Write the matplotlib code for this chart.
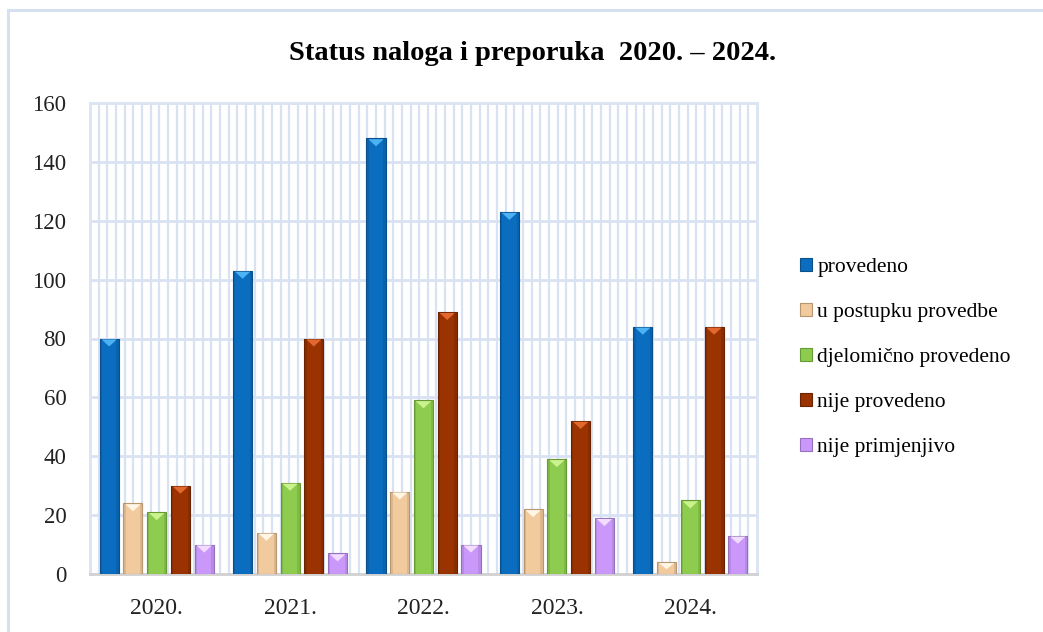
import numpy as np
import matplotlib
matplotlib.use("Agg")
import matplotlib.pyplot as plt
from matplotlib.patches import Polygon, Rectangle

years = ["2020.", "2021.", "2022.", "2023.", "2024."]
series_names = ["provedeno", "u postupku provedbe", "djelomično provedeno",
                "nije provedeno", "nije primjenjivo"]
provedeno = [80, 103, 148, 123, 84]
u_postupku = [24, 14, 28, 22, 4]
djelomicno = [21, 31, 59, 39, 25]
nije_provedeno = [30, 80, 89, 52, 84]
nije_primjenjivo = [10, 7, 10, 19, 13]
series = [provedeno, u_postupku, djelomicno, nije_provedeno, nije_primjenjivo]
y_ticks = [0, 20, 40, 60, 80, 100, 120, 140, 160]

colors = ["#0B6DC0", "#F1CA9E", "#8ECC4F", "#9A3300", "#CA98FA"]
tri_colors = ["#4DB2F2", "#FFF6E6", "#CCF28E", "#E2682E", "#F2DDFF"]
edge_colors = ["#0A4F8A", "#B89670", "#679A35", "#6A2300", "#9470BE"]

W, H = 1043, 632
fig = plt.figure(figsize=(W / 100, H / 100), dpi=100)
fig.patch.set_facecolor("white")
serif = ["Liberation Serif", "DejaVu Serif"]

# outer chart border (top/left visible)
fig.patches.append(Rectangle((8 / W, -0.05), 1.2, 1 - 10 / H + 0.05,
                             transform=fig.transFigure, fill=False,
                             edgecolor="#D6E0F1", linewidth=2.2, zorder=0))

left, right, top, bottom = 90, 757, 103, 574
ax = fig.add_axes([left / W, 1 - bottom / H, (right - left) / W, (bottom - top) / H])

x = np.arange(len(years))
slot = 0.178
bw = 0.143
ymax = 160
dy = 8.0 / ((bottom - top) / ymax)  # triangle depth in data units

for i, (name, vals) in enumerate(zip(series_names, series)):
    offs = x + (i - 2) * slot
    bars = ax.bar(offs, vals, width=bw, color=colors[i], edgecolor=edge_colors[i],
                  linewidth=0.8, label=name, zorder=3)
    for b in bars:
        bx, bwid, bh = b.get_x(), b.get_width(), b.get_height()
        d = min(dy, bh * 0.6)
        tri = Polygon([(bx + bwid * 0.1, bh - 0.3), (bx + bwid * 0.9, bh - 0.3),
                       (bx + bwid / 2, bh - d)], closed=True,
                      facecolor=tri_colors[i], edgecolor="none", zorder=4)
        ax.add_patch(tri)
        ax.add_patch(Rectangle((bx, 0), bwid * 0.12, bh, facecolor=edge_colors[i],
                               alpha=0.35, edgecolor="none", zorder=4))
        ax.add_patch(Rectangle((bx + bwid * 0.88, 0), bwid * 0.12, bh,
                               facecolor=edge_colors[i], alpha=0.35,
                               edgecolor="none", zorder=4))

ax.set_xlim(-0.5, len(years) - 0.5)
ax.set_ylim(0, ymax)
ax.set_yticks(y_ticks)
ax.set_yticklabels([str(t) for t in y_ticks], fontfamily=serif, fontsize=16.5)
ax.set_xticks(x)
ax.set_xticklabels(years, fontfamily=serif, fontsize=17)
ax.tick_params(axis="y", length=0, pad=17, colors="#222222")
ax.tick_params(axis="x", length=0, pad=17, colors="#222222")

grid_col = "#D9E2F3"
for t in y_ticks[1:]:
    ax.axhline(t, color=grid_col, linewidth=2.0, zorder=1)
for gx in np.linspace(-0.5, len(years) - 0.5, 78)[1:-1]:
    ax.axvline(gx, color=grid_col, linewidth=1.6, zorder=1)

for s in ["top", "left", "right"]:
    ax.spines[s].set_color("#DCE4F2")
    ax.spines[s].set_linewidth(2.0)
ax.spines["bottom"].set_color("#D0D0D0")
ax.spines["bottom"].set_linewidth(2.0)

fig.text(533 / W, 1 - 54 / H, "Status naloga i preporuka  2020. – 2024.",
         ha="center", va="center", fontfamily=serif, fontsize=20.5,
         fontweight="bold")

leg = fig.legend(loc="upper left", bbox_to_anchor=(800 / W, 1 - 258 / H),
                 frameon=False, prop={"family": serif, "size": 15.5},
                 handlelength=0.55, handleheight=0.55, handletextpad=0.25,
                 labelspacing=1.2, borderaxespad=0, borderpad=0)

fig.savefig("out.png", dpi=100, facecolor="white")
